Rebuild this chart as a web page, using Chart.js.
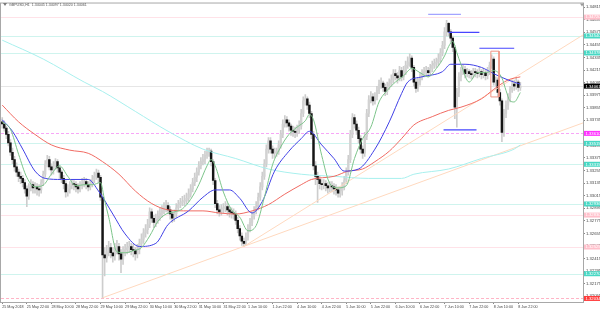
<!DOCTYPE html>
<html>
<head>
<meta charset="utf-8">
<script src="https://cdn.jsdelivr.net/npm/chart.js@4.4.1/dist/chart.umd.min.js"></script>
<style>
  html, body { margin: 0; padding: 0; background: #fff; }
  #wrap { width: 600px; height: 312px; position: relative; }
</style>
</head>
<body>
<div id="wrap"><canvas id="gbpChart"></canvas></div>
<script>
// GBPUSD H1, 25 May 10:00 -> 8 Jun 23:00 (254 bars)
const SYMBOL_TEXT = 'GBPUSD,H1  1.34045 1.34097 1.34020 1.34061';

const opens = [
  1.3372,1.3370,1.3366,1.3360,1.3352,1.3343,1.3336,1.3329,1.3324,1.3320,
  1.3318,1.3314,1.3308,1.3301,1.3310,1.3312,1.3309,1.3310,1.3308,1.3307,
  1.3314,1.3322,1.3332,1.3336,1.3329,1.3326,1.3330,1.3334,1.3328,1.3324,
  1.3318,1.3313,1.3305,1.3308,1.3311,1.3313,1.3312,1.3310,1.3308,1.3311,
  1.3313,1.3315,1.3312,1.3310,1.3313,1.3317,1.3320,1.3323,1.3319,1.3300,
  1.3245,1.3242,1.3248,1.3252,1.3247,1.3244,1.3250,1.3253,1.3246,1.3241,
  1.3248,1.3250,1.3252,1.3253,1.3250,1.3249,1.3246,1.3250,1.3256,1.3260,
  1.3266,1.3269,1.3274,1.3286,1.3280,1.3276,1.3279,1.3282,1.3285,1.3287,
  1.3290,1.3292,1.3288,1.3284,1.3280,1.3284,1.3290,1.3293,1.3295,1.3296,
  1.3297,1.3299,1.3303,1.3308,1.3314,1.3319,1.3324,1.3330,1.3334,1.3336,
  1.3340,1.3343,1.3344,1.3334,1.3316,1.3294,1.3288,1.3286,1.3289,1.3290,
  1.3291,1.3288,1.3286,1.3285,1.3284,1.3278,1.3270,1.3263,1.3258,1.3256,
  1.3262,1.3270,1.3276,1.3282,1.3287,1.3291,1.3300,1.3310,1.3320,1.3332,
  1.3346,1.3354,1.3346,1.3342,1.3343,1.3344,1.3350,1.3360,1.3370,1.3374,
  1.3371,1.3368,1.3364,1.3363,1.3362,1.3364,1.3368,1.3380,1.3392,1.3394,
  1.3388,1.3380,1.3360,1.3330,1.3320,1.3317,1.3313,1.3312,1.3313,1.3311,
  1.3309,1.3311,1.3310,1.3308,1.3307,1.3304,1.3306,1.3310,1.3316,1.3324,
  1.3336,1.3360,1.3376,1.3370,1.3364,1.3356,1.3346,1.3342,1.3358,1.3380,
  1.3393,1.3396,1.3392,1.3396,1.3402,1.3408,1.3409,1.3405,1.3401,1.3406,
  1.3409,1.3412,1.3418,1.3416,1.3414,1.3421,1.3415,1.3420,1.3426,1.3429,
  1.3433,1.3424,1.3410,1.3404,1.3410,1.3415,1.3418,1.3420,1.3421,1.3419,
  1.3423,1.3426,1.3428,1.3429,1.3432,1.3438,1.3445,1.3458,1.3466,1.3458,
  1.3452,1.3443,1.3386,1.3400,1.3415,1.3420,1.3422,1.3418,1.3420,1.3418,
  1.3417,1.3420,1.3419,1.3418,1.3420,1.3417,1.3419,1.3416,1.3420,1.3426,
  1.3432,1.3410,1.3412,1.3400,1.3392,1.3362,1.3380,1.3388,1.3395,1.3403,
  1.3408,1.3406,1.3410,1.34045
];
const highs = [
  1.3376,1.3373,1.3368,1.3363,1.3355,1.3347,1.3339,1.3333,1.3327,1.3324,
  1.3321,1.3317,1.3311,1.3313,1.3317,1.3315,1.3314,1.3313,1.3312,1.3317,
  1.3325,1.3335,1.3340,1.3339,1.3332,1.3334,1.3337,1.3336,1.3330,1.3326,
  1.3321,1.3316,1.3312,1.3315,1.3317,1.3316,1.3315,1.3313,1.3315,1.3318,
  1.3319,1.3318,1.3315,1.3317,1.3321,1.3324,1.3327,1.3326,1.3321,1.3303,
  1.3252,1.3254,1.3258,1.3256,1.3252,1.3256,1.3259,1.3256,1.3250,1.3253,
  1.3255,1.3257,1.3258,1.3256,1.3255,1.3252,1.3255,1.3260,1.3265,1.3270,
  1.3274,1.3279,1.3290,1.3289,1.3283,1.3284,1.3287,1.3290,1.3292,1.3295,
  1.3297,1.3295,1.3291,1.3287,1.3288,1.3294,1.3297,1.3299,1.3301,1.3302,
  1.3304,1.3308,1.3312,1.3318,1.3323,1.3328,1.3334,1.3338,1.3341,1.3344,
  1.3347,1.3347,1.3346,1.3336,1.3318,1.3297,1.3292,1.3293,1.3294,1.3296,
  1.3294,1.3291,1.3290,1.3289,1.3287,1.3281,1.3273,1.3266,1.3261,1.3266,
  1.3274,1.3280,1.3286,1.3291,1.3296,1.3304,1.3314,1.3324,1.3336,1.3350,
  1.3357,1.3357,1.3349,1.3347,1.3347,1.3354,1.3364,1.3374,1.3378,1.3377,
  1.3374,1.3370,1.3368,1.3367,1.3369,1.3373,1.3384,1.3396,1.3398,1.3396,
  1.3391,1.3382,1.3363,1.3334,1.3324,1.3320,1.3317,1.3317,1.3316,1.3314,
  1.3315,1.3315,1.3313,1.3312,1.3310,1.3310,1.3314,1.3320,1.3328,1.3340,
  1.3364,1.3380,1.3379,1.3373,1.3367,1.3359,1.3349,1.3362,1.3384,1.3397,
  1.3401,1.3399,1.3400,1.3406,1.3412,1.3414,1.3411,1.3408,1.3410,1.3413,
  1.3417,1.3422,1.3422,1.3419,1.3425,1.3424,1.3425,1.3430,1.3434,1.3437,
  1.3435,1.3426,1.3413,1.3414,1.3419,1.3422,1.3424,1.3425,1.3424,1.3427,
  1.3430,1.3432,1.3433,1.3437,1.3442,1.3449,1.3462,1.3469,1.3467,1.3460,
  1.3454,1.3445,1.3404,1.3419,1.3424,1.3426,1.3425,1.3423,1.3422,1.3421,
  1.3423,1.3423,1.3422,1.3424,1.3422,1.3423,1.3421,1.3424,1.3429,1.3436,
  1.3434,1.3415,1.3414,1.3403,1.3394,1.3384,1.3392,1.3399,1.3406,1.3412,
  1.3412,1.3414,1.3412,1.34097
];
const lows = [
  1.3366,1.3363,1.3356,1.3349,1.3340,1.3332,1.3325,1.3320,1.3315,1.3313,
  1.3310,1.3304,1.3291,1.3298,1.3306,1.3304,1.3304,1.3302,1.3301,1.3304,
  1.3311,1.3319,1.3329,1.3326,1.3321,1.3322,1.3327,1.3324,1.3318,1.3314,
  1.3308,1.3300,1.3301,1.3304,1.3308,1.3307,1.3305,1.3304,1.3305,1.3308,
  1.3310,1.3308,1.3306,1.3307,1.3310,1.3314,1.3317,1.3314,1.3297,1.3204,
  1.3225,1.3238,1.3244,1.3242,1.3238,1.3240,1.3246,1.3240,1.3228,1.3236,
  1.3244,1.3246,1.3247,1.3245,1.3243,1.3240,1.3242,1.3246,1.3252,1.3256,
  1.3262,1.3265,1.3271,1.3276,1.3271,1.3272,1.3275,1.3278,1.3281,1.3284,
  1.3286,1.3284,1.3279,1.3276,1.3277,1.3281,1.3287,1.3290,1.3292,1.3292,
  1.3294,1.3296,1.3300,1.3305,1.3311,1.3315,1.3321,1.3327,1.3331,1.3332,
  1.3337,1.3339,1.3330,1.3312,1.3290,1.3284,1.3282,1.3283,1.3285,1.3286,
  1.3283,1.3281,1.3280,1.3279,1.3274,1.3266,1.3259,1.3254,1.3253,1.3254,
  1.3259,1.3267,1.3273,1.3279,1.3284,1.3288,1.3297,1.3307,1.3317,1.3329,
  1.3342,1.3342,1.3337,1.3338,1.3339,1.3341,1.3347,1.3357,1.3367,1.3367,
  1.3363,1.3359,1.3358,1.3357,1.3358,1.3361,1.3365,1.3377,1.3388,1.3384,
  1.3376,1.3356,1.3326,1.3312,1.3295,1.3308,1.3307,1.3308,1.3306,1.3304,
  1.3305,1.3305,1.3303,1.3302,1.3300,1.3300,1.3302,1.3307,1.3313,1.3321,
  1.3333,1.3357,1.3366,1.3360,1.3352,1.3342,1.3337,1.3339,1.3355,1.3377,
  1.3390,1.3388,1.3389,1.3393,1.3399,1.3404,1.3401,1.3397,1.3398,1.3403,
  1.3406,1.3409,1.3412,1.3409,1.3411,1.3411,1.3412,1.3417,1.3423,1.3425,
  1.3420,1.3406,1.3400,1.3401,1.3407,1.3412,1.3415,1.3416,1.3415,1.3416,
  1.3420,1.3423,1.3424,1.3426,1.3429,1.3435,1.3442,1.3454,1.3454,1.3448,
  1.3439,1.3375,1.3367,1.3396,1.3411,1.3417,1.3414,1.3415,1.3414,1.3413,
  1.3414,1.3415,1.3414,1.3415,1.3413,1.3414,1.3412,1.3413,1.3417,1.3423,
  1.3407,1.3406,1.3396,1.3388,1.3353,1.3358,1.3376,1.3384,1.3391,1.3400,
  1.3402,1.3403,1.3401,1.34020
];
const closes = [
  1.3370,1.3366,1.3360,1.3352,1.3343,1.3336,1.3329,1.3324,1.3320,1.3318,
  1.3314,1.3308,1.3301,1.3310,1.3312,1.3309,1.3310,1.3308,1.3307,1.3314,
  1.3322,1.3332,1.3336,1.3329,1.3326,1.3330,1.3334,1.3328,1.3324,1.3318,
  1.3313,1.3305,1.3308,1.3311,1.3313,1.3312,1.3310,1.3308,1.3311,1.3313,
  1.3315,1.3312,1.3310,1.3313,1.3317,1.3320,1.3323,1.3319,1.3300,1.3245,
  1.3242,1.3248,1.3252,1.3247,1.3244,1.3250,1.3253,1.3246,1.3241,1.3248,
  1.3250,1.3252,1.3253,1.3250,1.3249,1.3246,1.3250,1.3256,1.3260,1.3266,
  1.3269,1.3274,1.3286,1.3280,1.3276,1.3279,1.3282,1.3285,1.3287,1.3290,
  1.3292,1.3288,1.3284,1.3280,1.3284,1.3290,1.3293,1.3295,1.3296,1.3297,
  1.3299,1.3303,1.3308,1.3314,1.3319,1.3324,1.3330,1.3334,1.3336,1.3340,
  1.3343,1.3344,1.3334,1.3316,1.3294,1.3288,1.3286,1.3289,1.3290,1.3291,
  1.3288,1.3286,1.3285,1.3284,1.3278,1.3270,1.3263,1.3258,1.3256,1.3262,
  1.3270,1.3276,1.3282,1.3287,1.3291,1.3300,1.3310,1.3320,1.3332,1.3346,
  1.3354,1.3346,1.3342,1.3343,1.3344,1.3350,1.3360,1.3370,1.3374,1.3371,
  1.3368,1.3364,1.3363,1.3362,1.3364,1.3368,1.3380,1.3392,1.3394,1.3388,
  1.3380,1.3360,1.3330,1.3320,1.3317,1.3313,1.3312,1.3313,1.3311,1.3309,
  1.3311,1.3310,1.3308,1.3307,1.3304,1.3306,1.3310,1.3316,1.3324,1.3336,
  1.3360,1.3376,1.3370,1.3364,1.3356,1.3346,1.3342,1.3358,1.3380,1.3393,
  1.3396,1.3392,1.3396,1.3402,1.3408,1.3409,1.3405,1.3401,1.3406,1.3409,
  1.3412,1.3418,1.3416,1.3414,1.3421,1.3415,1.3420,1.3426,1.3429,1.3433,
  1.3424,1.3410,1.3404,1.3410,1.3415,1.3418,1.3420,1.3421,1.3419,1.3423,
  1.3426,1.3428,1.3429,1.3432,1.3438,1.3445,1.3458,1.3466,1.3458,1.3452,
  1.3443,1.3386,1.3400,1.3415,1.3420,1.3422,1.3418,1.3420,1.3418,1.3417,
  1.3420,1.3419,1.3418,1.3420,1.3417,1.3419,1.3416,1.3420,1.3426,1.3432,
  1.3410,1.3412,1.3400,1.3392,1.3362,1.3380,1.3388,1.3395,1.3403,1.3408,
  1.3406,1.3410,1.3405,1.34061
];

// moving averages, sampled at bar indices
const maFastIdx = [0,4,8,12,16,20,24,28,32,36,40,44,48,50,52,56,60,64,68,72,76,80,84,88,92,96,100,102,104,108,112,116,120,124,128,132,136,140,144,148,150,152,156,160,164,168,172,176,180,184,188,192,196,200,204,208,212,216,218,220,222,224,228,232,236,240,244,246,248,250,253];
const maFastVal = [1.3372,1.3365,1.3341,1.3319,1.3310,1.33115,1.3322,1.3330,1.3320,1.3311,1.3312,1.3312,1.3314,1.3297,1.3281,1.3248,1.3247,1.3249,1.3252,1.3263,1.3277,1.3284,1.3286,1.3289,1.3298,1.3312,1.3330,1.3336,1.3330,1.3305,1.3288,1.3281,1.3268,1.3273,1.3300,1.3331,1.3348,1.3360,1.3367,1.3373,1.3379,1.3374,1.3340,1.3313,1.3309,1.3311,1.3337,1.3356,1.3367,1.3391,1.3402,1.3410,1.3416,1.3423,1.3419,1.3415,1.3423,1.3435,1.3444,1.3449,1.3438,1.3427,1.3410,1.3419,1.3419,1.3421,1.3414,1.3402,1.3392,1.3391,1.3400];

const maMidIdx = [0,5,10,16,21,29,42,47,54,60,67,75,81,91,98,104,111,116,122,127,133,140,146,150,156,162,167,174,182,189,195,198,205,215,219,226,234,240,247,253];
const maMidVal = [1.3374,1.3363,1.3346,1.3325,1.3318,1.3317,1.3317,1.3306,1.3284,1.3265,1.3253,1.3256,1.3274,1.3287,1.3300,1.3307,1.3307,1.3299,1.3285,1.3296,1.3325,1.3344,1.3356,1.3363,1.3350,1.3337,1.3325,1.3327,1.3346,1.3372,1.3399,1.3410,1.3415,1.3420,1.3427,1.3427,1.3424,1.3418,1.3412,1.3408];

const maSlowIdx = [0,8,16,24,33,42,49,57,65,73,81,91,98,106,114,122,130,138,146,151,162,169,176,182,189,195,201,210,218,224,234,240,247,253];
const maSlowVal = [1.3388,1.3372,1.3360,1.3350,1.3345,1.3342,1.3334,1.3322,1.3306,1.3294,1.3288,1.3287,1.3287,1.3285,1.3284,1.3287,1.3293,1.3303,1.3312,1.3317,1.3320,1.3325,1.3327,1.3334,1.3344,1.3356,1.3369,1.3377,1.3383,1.3386,1.3394,1.3403,1.3412,1.3415];

const maLongIdx = [0,20,40,49,65,81,98,114,130,146,162,179,195,201,218,234,250,253];
const maLongVal = [1.3450,1.3432,1.3410,1.3401,1.3382,1.3363,1.3346,1.3337,1.3327,1.3322,1.3320,1.3318,1.3318,1.3322,1.3327,1.3337,1.3346,1.3350];

// trend lines (start idx, start price, end idx, end price)
const trendA = [49, 1.3204, 283.6, 1.3371];
const trendB = [118, 1.3253, 283.6, 1.3455];

// short horizontal markers
const markFrom  = [208, 218, 233, 215.5];
const markTo    = [224, 233, 250, 231.6];
const markLevel = [1.34746, 1.34575, 1.34423, 1.33644];
const markColor = ['#a4a4ff', '#4646ff', '#4646ff', '#4646ff'];

// box around the spike bar
const boxIdx = [238.6, 242.6];
const boxPrice = [1.34395, 1.33958];

// horizontal levels + their axis tags
const levelValues = [1.34720, 1.34540, 1.34378, 1.34061, 1.33610, 1.33515, 1.33315, 1.32936, 1.32830, 1.32525, 1.32270, 1.32034];
const levelLine   = ['#ffe2e8', '#cff4ee', '#cff4ee', '#e6e6e6', '#f7a6f7', '#cff4ee', '#cff4ee', '#cff4ee', '#ffe2e8', '#ffe2e8', '#cff4ee', '#ffb4c6'];
const levelDash   = [false, false, false, false, true, false, false, false, false, false, false, true];
const levelTag    = ['#ffc0cb', '#48d8c4', '#48d8c4', '#000000', '#ff33ff', '#48d8c4', '#48d8c4', '#48d8c4', '#ffc0cb', '#ffc0cb', '#48d8c4', '#ff3b3b'];

const xTickIdx = [0,12,24,36,48,60,72,84,96,108,120,132,144,156,168,180,192,204,216,228,240,252];
const xTickLabels = ['25 May 2018','25 May 22:00','28 May 10:00','28 May 22:00','29 May 10:00','29 May 22:00',
  '30 May 10:00','30 May 22:00','31 May 10:00','31 May 22:00','1 Jun 10:00','1 Jun 22:00','4 Jun 10:00',
  '4 Jun 22:00','5 Jun 10:00','5 Jun 22:00','6 Jun 10:00','6 Jun 22:00','7 Jun 10:00','7 Jun 22:00',
  '8 Jun 10:00','8 Jun 22:00'];
const yTickValues = [1.32055,1.32175,1.32295,1.32415,1.32535,1.32655,1.32775,1.32895,1.33015,1.33135,1.33255,1.33375,
  1.33495,1.33615,1.33735,1.33855,1.33975,1.34095,1.34215,1.34335,1.34455,1.34575,1.34695,1.34815];

const FONT = 'Liberation Sans, Arial, sans-serif';

// ── datasets ────────────────────────────────────────────────────────────────
const wickData = opens.map((o, i) => ({ x: i, y: [lows[i], highs[i]] }));
const bullData = [], bearData = [];
opens.forEach((o, i) => {
  const pt = { x: i, y: [o, closes[i]] };
  (closes[i] < o ? bearData : bullData).push(pt);
});

const zip = (xs, ys) => xs.map((x, i) => ({ x, y: ys[i] }));
const lineDs = (data, color, order, extra) => Object.assign({
  type: 'line', data, borderColor: color, borderWidth: 1, pointRadius: 0,
  fill: false, order, cubicInterpolationMode: 'monotone',
}, extra || {});

const datasets = [
  { type: 'bar', data: wickData, backgroundColor: '#cdcdcd', barThickness: 1, grouped: false, order: 20 },
  { type: 'bar', data: bullData, backgroundColor: '#d2d2d2', barThickness: 1.6, grouped: false, order: 19 },
  { type: 'bar', data: bearData, backgroundColor: '#151515', barThickness: 1.8, grouped: false, order: 18 },
  lineDs(zip(maLongIdx, maLongVal), '#a8f0ee', 6),
  lineDs([{ x: trendA[0], y: trendA[1] }, { x: trendA[2], y: trendA[3] }], '#ffd9bf', 7, { cubicInterpolationMode: 'default' }),
  lineDs([{ x: trendB[0], y: trendB[1] }, { x: trendB[2], y: trendB[3] }], '#ffd9bf', 7, { cubicInterpolationMode: 'default' }),
  lineDs(zip(maSlowIdx, maSlowVal), '#f06a62', 4),
  lineDs(zip(maMidIdx, maMidVal), '#4040e6', 3),
  lineDs(zip(maFastIdx, maFastVal), '#7cc48a', 2),
  lineDs([
    { x: boxIdx[0], y: boxPrice[0] }, { x: boxIdx[1], y: boxPrice[0] },
    { x: boxIdx[1], y: boxPrice[1] }, { x: boxIdx[0], y: boxPrice[1] },
    { x: boxIdx[0], y: boxPrice[0] },
  ], '#f09484', 1, { cubicInterpolationMode: 'default' }),
];
markLevel.forEach((lv, k) => {
  datasets.push(lineDs([{ x: markFrom[k], y: lv }, { x: markTo[k], y: lv }], markColor[k], 1,
    { borderWidth: 1.2, cubicInterpolationMode: 'default' }));
});

// ── plugins: levels behind, tags / frame / title on top ─────────────────────
const levelsPlugin = {
  id: 'levels',
  beforeDatasetsDraw(chart) {
    const { ctx, chartArea: a, scales: { y } } = chart;
    ctx.save();
    ctx.lineWidth = 1;
    levelValues.forEach((v, k) => {
      const py = Math.round(y.getPixelForValue(v)) + 0.5;
      ctx.strokeStyle = levelLine[k];
      ctx.setLineDash(levelDash[k] ? [3, 2] : []);
      ctx.beginPath();
      ctx.moveTo(a.left, py);
      ctx.lineTo(a.right, py);
      ctx.stroke();
    });
    ctx.restore();
  },
  afterDraw(chart) {
    const { ctx, chartArea: a, scales: { y } } = chart;
    ctx.save();
    // frame
    ctx.strokeStyle = '#a8a8a8';
    ctx.lineWidth = 1;
    ctx.strokeRect(a.left - 0.5, a.top - 0.5, a.right - a.left + 1, a.bottom - a.top + 1);
    // axis tags
    ctx.font = '4.2px ' + FONT;
    ctx.textBaseline = 'middle';
    ctx.textAlign = 'left';
    levelValues.forEach((v, k) => {
      const py = y.getPixelForValue(v);
      ctx.fillStyle = levelTag[k];
      ctx.fillRect(a.right + 1, py - 2.5, 17, 5);
      ctx.fillStyle = '#ffffff';
      ctx.fillText(v.toFixed(5), a.right + 2.5, py + 0.2);
    });
    // title
    ctx.fillStyle = '#7a7a7a';
    ctx.beginPath();
    ctx.moveTo(3, 3); ctx.lineTo(7, 3); ctx.lineTo(5, 6); ctx.closePath();
    ctx.fill();
    ctx.fillStyle = '#555';
    ctx.font = '3.6px ' + FONT;
    ctx.fillText(SYMBOL_TEXT, 9, 4.5);
    // chart-shift marker
    ctx.fillStyle = '#9a9a9a';
    ctx.beginPath();
    ctx.moveTo(a.right - 3, a.top); ctx.lineTo(a.right + 1, a.top); ctx.lineTo(a.right - 1, a.top + 3); ctx.closePath();
    ctx.fill();
    ctx.restore();
  },
};

new Chart(document.getElementById('gbpChart'), {
  type: 'bar',
  data: { datasets },
  options: {
    responsive: true,
    maintainAspectRatio: false,
    animation: false,
    layout: { padding: { top: 1, left: 1, right: 0, bottom: 0 } },
    plugins: { legend: { display: false }, tooltip: { enabled: false } },
    scales: {
      x: {
        type: 'linear', min: -0.6, max: 283.6, offset: false,
        grid: { drawOnChartArea: false, offset: false, tickLength: 2, color: '#888' },
        border: { display: false },
        afterBuildTicks: (s) => { s.ticks = xTickIdx.map(v => ({ value: v })); },
        afterFit: (s) => { s.height = 10; },
        ticks: {
          autoSkip: false, maxRotation: 0, align: 'start', padding: 1,
          color: '#444', font: { family: FONT, size: 3.7 },
          callback: (v, i) => xTickLabels[i],
        },
      },
      y: {
        position: 'right', min: 1.3200, max: 1.3485,
        grid: { drawOnChartArea: false, tickLength: 2, color: '#888' },
        border: { display: false },
        afterBuildTicks: (s) => { s.ticks = yTickValues.map(v => ({ value: v })); },
        afterFit: (s) => { s.width = 17; },
        ticks: {
          padding: 1, color: '#444', font: { family: FONT, size: 4.2 },
          callback: (v) => Number(v).toFixed(5),
        },
      },
    },
  },
  plugins: [levelsPlugin],
});
</script>
</body>
</html>
